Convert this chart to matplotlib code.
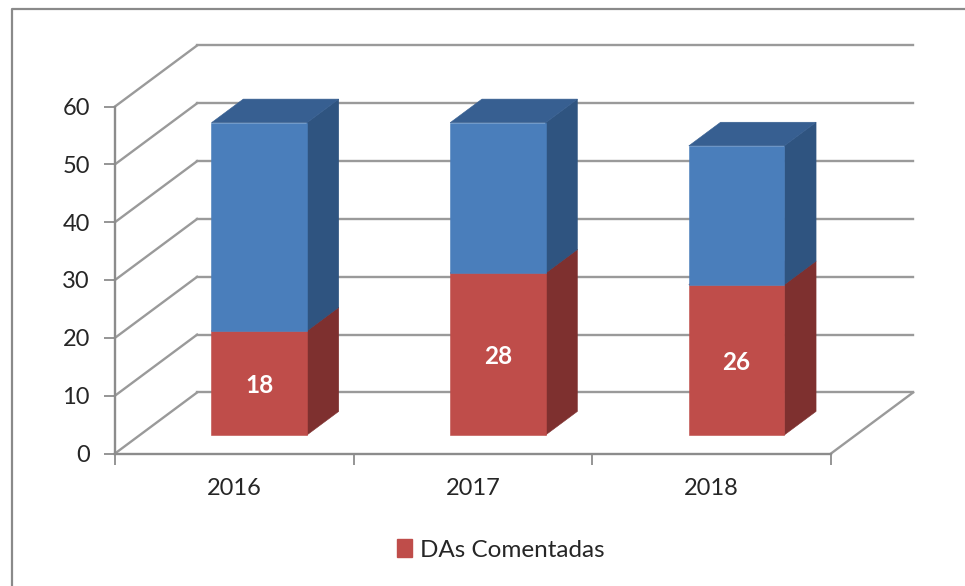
import matplotlib
matplotlib.use('Agg')
import matplotlib.pyplot as plt
from matplotlib.lines import Line2D
from matplotlib.patches import Polygon, Patch

plt.rcParams['font.family'] = ['Lato', 'DejaVu Sans']

# chart data
years = ['2016', '2017', '2018']
comentadas = [18, 28, 26]
outras = [36, 26, 24]
yticks = [0, 10, 20, 30, 40, 50, 60]

# colours
GRID = '#9a9a9a'
AXIS = '#8c8c8c'
RED = ['#bf4d4a', '#7e302f', '#8f3a38']
BLUE = ['#4a7ebb', '#2f5480', '#375f91']

W, H = 965, 586
fig = plt.figure(figsize=(W / 100, H / 100), dpi=100)
ax = fig.add_axes([115 / W, 1 - 453.5 / H, 716 / W, 347 / H])
ax.set_xlim(0, 3)
ax.set_ylim(0, 60)
ax.patch.set_visible(False)

# fake 3d depth, in data units
DX = 0.344
DY = 10.55
F0 = 0.303
F1 = 0.69
BAR_W = 0.40


def proj(x, y, f):
    return x + DX * f, y + DY * f


def box(x0, x1, y0, y1, cols):
    # front, side, top of one bar block
    front = [proj(x0, y0, F0), proj(x1, y0, F0), proj(x1, y1, F0), proj(x0, y1, F0)]
    side = [proj(x1, y0, F0), proj(x1, y0, F1), proj(x1, y1, F1), proj(x1, y1, F0)]
    top = [proj(x0, y1, F0), proj(x1, y1, F0), proj(x1, y1, F1), proj(x0, y1, F1)]
    for pts, c in zip([side, top, front], [cols[1], cols[2], cols[0]]):
        ax.add_patch(Polygon(pts, closed=True, fc=c, ec=c, lw=0.4, zorder=3, clip_on=False))


# walls and floor lines
for v in yticks:
    bx, by = proj(0, v, 1)
    ax.plot([0, bx], [v, by], color=GRID, lw=1.7, clip_on=False, zorder=1)
    ex, _ = proj(3, v, 1)
    ax.plot([bx, ex], [by, by], color=GRID, lw=1.7, clip_on=False, zorder=1)
ex, ey = proj(3, 0, 1)
ax.plot([3, ex], [0, ey], color=GRID, lw=1.7, clip_on=False, zorder=1)

# bars
for i in range(len(years)):
    x0 = i + 0.5 - BAR_W / 2
    x1 = i + 0.5 + BAR_W / 2
    box(x0, x1, 0, comentadas[i], RED)
    box(x0, x1, comentadas[i], comentadas[i] + outras[i], BLUE)
    lx, ly = proj(i + 0.5, comentadas[i] / 2 - 0.4, F0)
    ax.text(lx, ly, str(comentadas[i]), color='white', fontsize=17.5, fontweight='bold',
            ha='center', va='center', zorder=4)

# axes
for s in ['top', 'right']:
    ax.spines[s].set_visible(False)
for s in ['left', 'bottom']:
    ax.spines[s].set_color(AXIS)
    ax.spines[s].set_linewidth(1.7)
ax.set_yticks(yticks)
ax.set_xticks([0, 1, 2, 3])
ax.set_xticklabels([])
ax.set_xticks([0.5, 1.5, 2.5], labels=years, minor=True)
ax.tick_params(axis='both', which='major', color=AXIS, width=1.3, length=8)
ax.tick_params(axis='y', which='major', pad=10, labelsize=17, labelcolor='#262626')
ax.tick_params(axis='x', which='minor', length=0, pad=17.5, labelsize=17, labelcolor='#262626')

# legend
ax.legend(handles=[Patch(fc=RED[0], ec=RED[0], label='DAs Comentadas')],
          loc='center', bbox_to_anchor=(0.539, 1 - (550 - 106.5) / 347),
          frameon=False, fontsize=17.5, handlelength=0.6, handleheight=0.7,
          handletextpad=0.35, labelcolor='#262626')

# outer border of the chart, runs off the image on right and bottom
fig.add_artist(Line2D([12 / W, 12 / W, 1], [0, 1 - 9 / H, 1 - 9 / H], color='#8a8a8a', lw=1.6))

fig.savefig('out.png', dpi=100)
